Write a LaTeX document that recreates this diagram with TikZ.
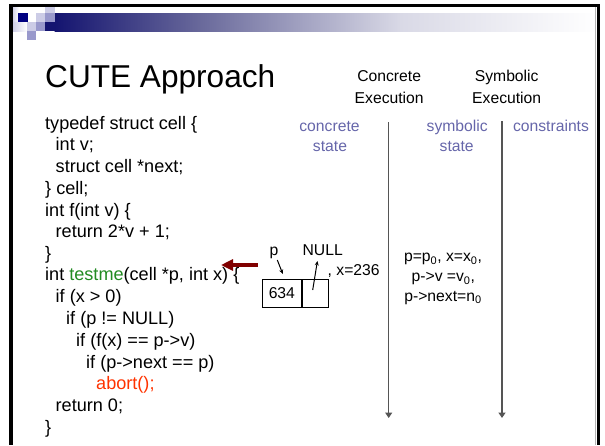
\documentclass[tikz,border=0pt]{standalone}
\usepackage{fontspec}
\setmainfont{Liberation Sans}
\usetikzlibrary{arrows.meta}

\definecolor{navy}{RGB}{0,0,128}
\definecolor{barnavy}{RGB}{20,20,112}
\definecolor{barmid}{RGB}{105,105,155}
\definecolor{barlight}{RGB}{217,217,230}
\definecolor{lav}{RGB}{204,204,230}
\definecolor{midlav}{RGB}{153,153,204}
\definecolor{headblue}{RGB}{102,102,170}
\definecolor{codegreen}{RGB}{34,139,34}
\definecolor{codered}{RGB}{255,51,0}
\definecolor{darkred}{RGB}{128,0,0}
\definecolor{axisgray}{RGB}{85,85,85}

\begin{document}
\begin{tikzpicture}[x=1pt, y=-1pt,
  code/.style={anchor=base west, inner sep=0pt, font=\fontsize{18.1}{21.7}\selectfont},
  lbl/.style={anchor=base, inner sep=0pt, font=\fontsize{15.7}{20}\selectfont},
  hdr/.style={lbl, text=headblue},
  cellbox/.style={draw, line width=1pt, minimum height=28.4pt, inner sep=0pt,
    font=\fontsize{15.7}{20}\selectfont},
  timeline/.style={draw=axisgray, line width=1.4pt, -{Triangle[length=5.5pt,width=7pt]}},
  ptr/.style={draw, line width=1pt, -{Stealth[length=4.5pt,width=4pt]}},
  sq/.style={fill=#1, draw=none}
]
\useasboundingbox (0,0) rectangle (605,445);
\fill[white] (0,0) rectangle (605,445);

% title bar: gradient band
\shade[left color=barnavy, right color=barmid] (54.5,13) rectangle (200.5,31);
\shade[left color=barmid, right color=barlight] (200,13) rectangle (400.5,31);
\shade[left color=barlight, right color=white] (400,13) rectangle (597,31);

% decorative squares
\shade[left color=lav, right color=white] (12,7) rectangle (19,22);
\shade[left color=lav, right color=white] (12,22) rectangle (27,31);
\fill[sq=lav]    (45,4)  rectangle (55,13);
\fill[sq=navy]   (18,13) rectangle (27.5,22);
\fill[sq=lav]    (36,13) rectangle (45,22);
\fill[sq=midlav] (45,13) rectangle (55,22);
\fill[sq=lav]    (27,22) rectangle (36,31);
\fill[sq=midlav] (36,22) rectangle (45,31);
\fill[sq=barnavy](45,22) rectangle (55,31);
\fill[sq=midlav] (27,31) rectangle (36,40);

% slide frame
\fill[black] (9,4) rectangle (12.5,445);
\fill[black] (9,4) rectangle (600,6.8);
\fill[black] (597,4) rectangle (600,445);
\draw[gray!60, line width=0.6pt] (595,7) -- (595,445);

% title
\node[anchor=base west, inner sep=0pt, font=\fontsize{31.6}{36}\selectfont] (title) at (45,87.3) {CUTE Approach};

% program text
\node[code] (l1)  at (45,129)   {typedef struct cell \{};
\node[code] (l2)  at (55.5,150.7) {int v;};
\node[code] (l3)  at (55.5,172.7) {struct cell *next;};
\node[code] (l4)  at (45,194)   {\} cell;};
\node[code] (l5)  at (45,216)   {int f(int v) \{};
\node[code] (l6)  at (55.5,237.5) {return 2*v + 1;};
\node[code] (l7)  at (45,259)   {\}};
\node[code] (l8)  at (45,280.7) {int \textcolor{codegreen}{testme}(cell *p, int x) \{};
\node[code] (l9)  at (55.5,302.7) {if (x > 0)};
\node[code] (l10) at (66,324.5) {if (p != NULL)};
\node[code] (l11) at (76,346)   {if (f(x) == p->v)};
\node[code] (l12) at (86,368)   {if (p->next == p)};
\node[code, text=codered] (l13) at (96,389.5) {abort();};
\node[code] (l14) at (55.5,411.5) {return 0;};
\node[code] (l15) at (45,433)   {\}};

% column headings
\node[lbl] (ce1) at (389.2,81.5) {Concrete};
\node[lbl] (ce2) at (389.2,103)  {Execution};
\node[lbl] (se1) at (506.7,81.5) {Symbolic};
\node[lbl] (se2) at (506.7,103)  {Execution};
\node[hdr] (cs1) at (329.5,131.5) {concrete};
\node[hdr] (cs2) at (330,151.7)   {state};
\node[hdr] (ss1) at (457.2,131.5) {symbolic};
\node[hdr] (ss2) at (456.7,151.7) {state};
\node[hdr] (cons) at (551,131.5)  {constraints};

% time lines of the two executions
\coordinate (ctop) at (388.7,122);
\coordinate (cbot) at (388.7,418);
\coordinate (stop) at (502,121);
\coordinate (sbot) at (502,418);
\draw[timeline] (ctop) -- (cbot);
\draw[timeline] (stop) -- (sbot);

% concrete state: the cell p points to
\node[cellbox, minimum width=38.3pt] (cv) at (281.85,293.5) {634};
\node[cellbox, minimum width=26.3pt, anchor=west] (cn) at (cv.east) {};
\node[lbl] (plab) at (274,255.5) {p};
\node[lbl] (nulllab) at (322.7,255) {NULL};
\node[lbl, anchor=base west] (xval) at (327.5,275) {, x=236};
\coordinate (pfrom) at (277.3,260);
\coordinate (pto) at (282.8,274);
\coordinate (nfrom) at (312.7,290);
\coordinate (nto) at (317.4,261);
\draw[ptr] (pfrom) -- (pto);
\draw[ptr] (nfrom) -- (nto);

% marker at the entry of testme
\coordinate (redtail) at (257.5,265);
\coordinate (redtip) at (221,265);
\draw[darkred, line width=4.6pt, -{Triangle[length=12pt,width=11pt]}] (redtail) -- (redtip);

% symbolic state
\node[lbl] (sy1) at (443,261.7) {p=p\textsubscript{0}, x=x\textsubscript{0},};
\node[lbl] (sy2) at (443.3,281.7) {p->v =v\textsubscript{0},};
\node[lbl] (sy3) at (443,301) {p->next=n\textsubscript{0}};
\end{tikzpicture}
\end{document}
